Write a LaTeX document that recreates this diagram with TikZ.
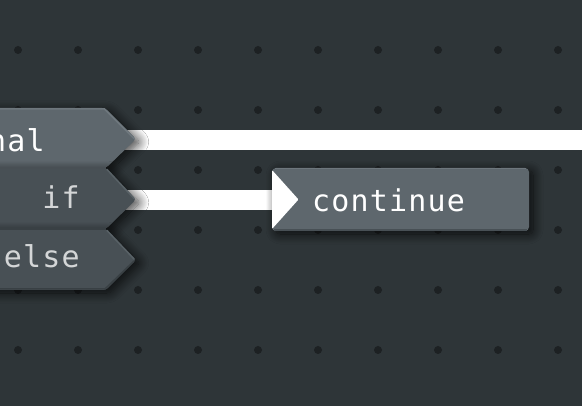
\documentclass[tikz,border=0pt]{standalone}
\usepackage{fontspec}
\newfontfamily\blockmono[LetterSpace=4]{DejaVu Sans Mono}
\usetikzlibrary{shadows.blur}
\definecolor{bgc}{HTML}{2E3538}
\definecolor{dotc}{HTML}{1D2123}
\definecolor{lightblk}{HTML}{5E676D}
\definecolor{lighthl}{HTML}{6E777D}
\definecolor{lightedge}{HTML}{484F54}
\definecolor{darkblk}{HTML}{485055}
\definecolor{darkhl}{HTML}{586166}
\definecolor{darkedge}{HTML}{394044}
\definecolor{dimtext}{HTML}{D4D6D7}
\tikzset{
  softshadow/.style={blur shadow={shadow xshift=4pt, shadow yshift=-3pt, shadow blur radius=10pt, shadow blur steps=14, shadow opacity=75}},
  wire/.style={line width=20pt, white, line cap=butt},
  blocktext/.style={inner sep=0pt, font=\blockmono\fontsize{30}{36}\selectfont},
  hledge/.style={line width=1.5pt, line cap=round},
}
\begin{document}
\begin{tikzpicture}[x=1pt,y=-1pt]
\fill[bgc] (0,0) rectangle (582,406);
\useasboundingbox (0,0) rectangle (582,406);
% dot grid
\foreach \i in {0,...,9}{\foreach \j in {0,...,5}{\fill[dotc] (18+60*\i,50+60*\j) circle[radius=4];}}
% anchor points
\coordinate (nalout) at (125,140);
\coordinate (ifout) at (125,200);
\coordinate (wireend) at (583,140);
\coordinate (contin) at (273,200);
% wires
\draw[wire] (nalout) -- (wireend);
\draw[wire] (ifout) -- (contin);
% block "nal"
\fill[lightblk, softshadow, rounded corners=3pt] (-20,108) -- (105,108) -- (136,139) -- (106,168) -- (-20,168) -- cycle;
\draw[lighthl, hledge] (-5,109) -- (104.5,109) -- (134,138.5);
% block "if"
\fill[darkblk, softshadow, rounded corners=3pt] (-20,168) -- (106,168) -- (136,199.5) -- (106,229) -- (-20,229) -- cycle;
\draw[lightedge, line width=1.5pt] (-5,168) -- (106,168);
\draw[darkhl, hledge] (107,169.5) -- (134,198.5);
% block "else"
\fill[darkblk, softshadow, rounded corners=3pt] (-20,229) -- (106,229) -- (136,260) -- (106,290) -- (-20,290) -- cycle;
\draw[darkedge, line width=1.2pt] (-5,229) -- (106,229);
\draw[darkhl, hledge] (107,230.5) -- (134,259);
\draw[darkedge, line width=1.5pt] (-5,289) -- (105,289) -- (134,261);
% continue block
\fill[lightblk, softshadow, rounded corners=4pt] (272,168) rectangle (529,231);
\draw[darkblk, line width=2pt] (274,230) -- (527,230);
\draw[lighthl, line width=1.2pt] (275,168.8) -- (526,168.8);
\fill[white, rounded corners=1pt] (272,170) -- (298.5,199.5) -- (272,229) -- cycle;
% texts
\node[blocktext, white, anchor=base east] (nal) at (45,152) {nal};
\node[blocktext, dimtext, anchor=base east] (if) at (80,209) {if};
\node[blocktext, dimtext, anchor=base east] (else) at (80,268) {else};
\node[blocktext, white, anchor=base west] (cont) at (312,212) {continue};
\end{tikzpicture}
\end{document}
